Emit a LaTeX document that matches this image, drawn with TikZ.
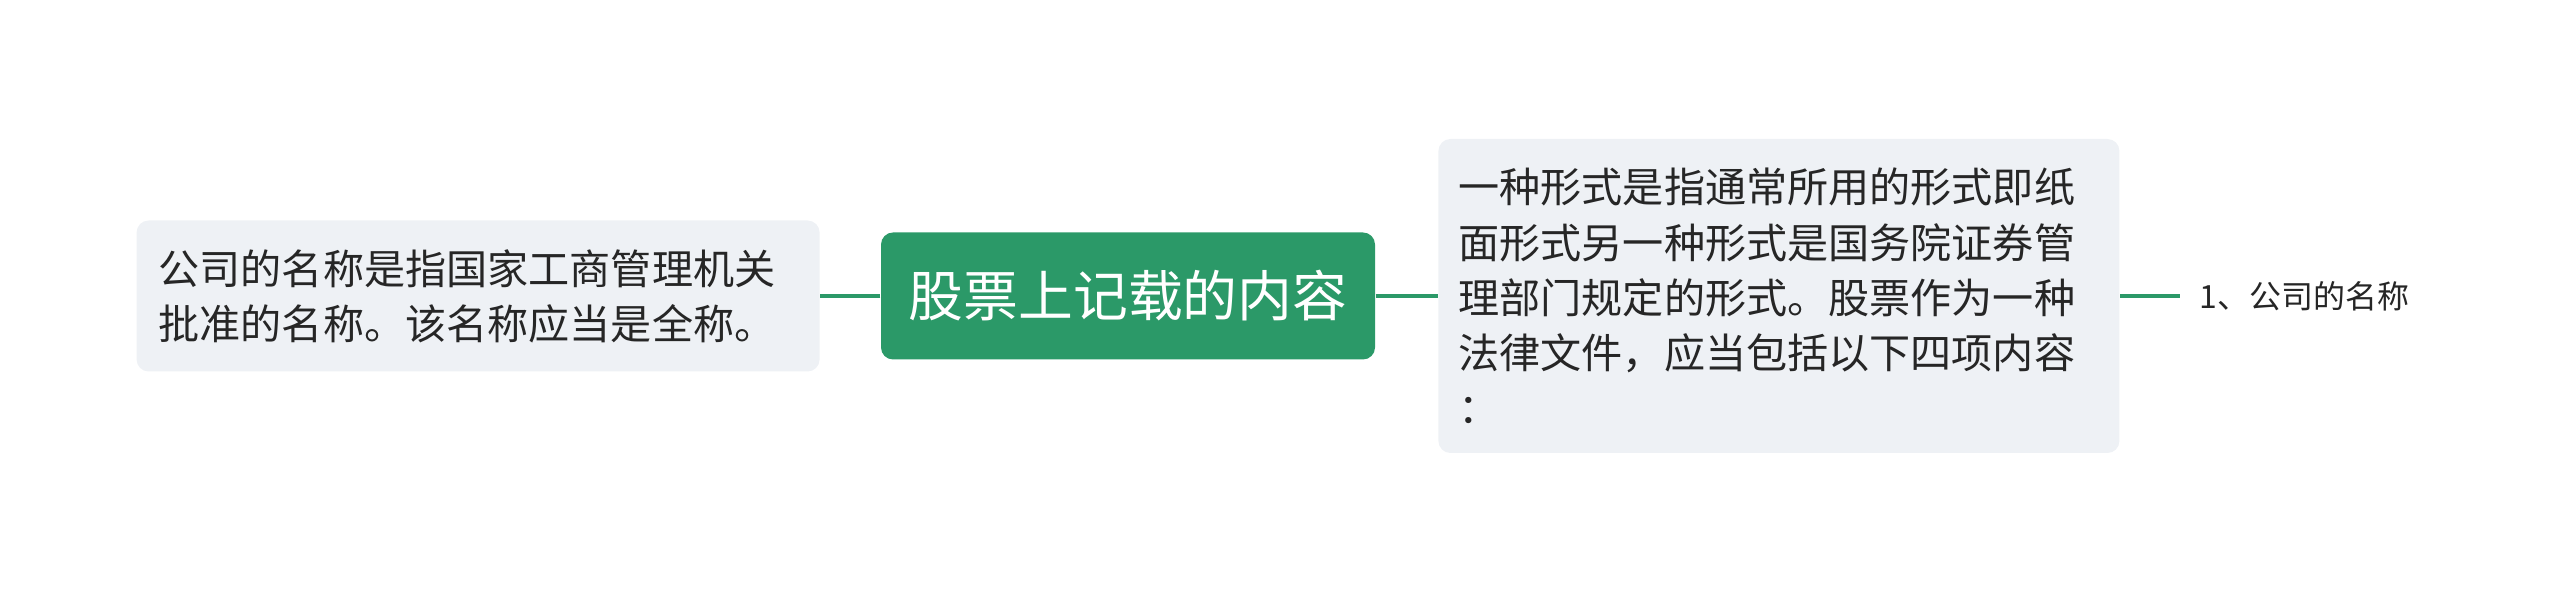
\documentclass[tikz,border=0pt]{standalone}
\usepackage{fontspec}
\setmainfont{Noto Sans CJK SC}
\usetikzlibrary{positioning}
\definecolor{mapgreen}{RGB}{43,153,104}
\definecolor{boxgrey}{RGB}{238,241,245}
\definecolor{inkgrey}{RGB}{38,38,38}

\begin{document}
\begin{tikzpicture}[node distance=0.6cm,
    topic/.style={fill=mapgreen, text=white, rounded corners=0.12cm, minimum width=4.94cm, minimum height=1.27cm, inner sep=0pt, font=\fontsize{15.6pt}{18pt}\selectfont},
    note/.style={fill=boxgrey, text=inkgrey, rounded corners=0.12cm, align=left, inner ysep=0pt, font=\fontsize{11.7pt}{15.7pt}\selectfont},
    leaf/.style={text=inkgrey, inner xsep=0.19cm, inner ysep=0pt, font=\fontsize{9.1pt}{11pt}\selectfont},
    branch/.style={draw=mapgreen, line width=1.35pt}]
                \useasboundingbox (0,0) rectangle (25.6,5.92);
                \node[topic] (main) at (11.28,2.96) {股票上记载的内容};
                \node[note, text width=6.39cm, inner xsep=0.22cm, minimum height=1.51cm] (name) [left=of main] {公司的名称是指国家工商管理机关\\批准的名称。该名称应当是全称。};
                \node[note, text width=6.41cm, inner xsep=0.2cm, minimum height=3.14cm] (form) [right=0.62cm of main] {一种形式是指通常所用的形式即纸\\面形式另一种形式是国务院证券管\\理部门规定的形式。股票作为一种\\法律文件，应当包括以下四项内容\\：};
                \node[leaf] (item) [right=of form] {1、公司的名称};
                \path[branch]
                (main) edge (name)
                (main) edge (form)
                (form) edge (item);
        \end{tikzpicture}
\end{document}
